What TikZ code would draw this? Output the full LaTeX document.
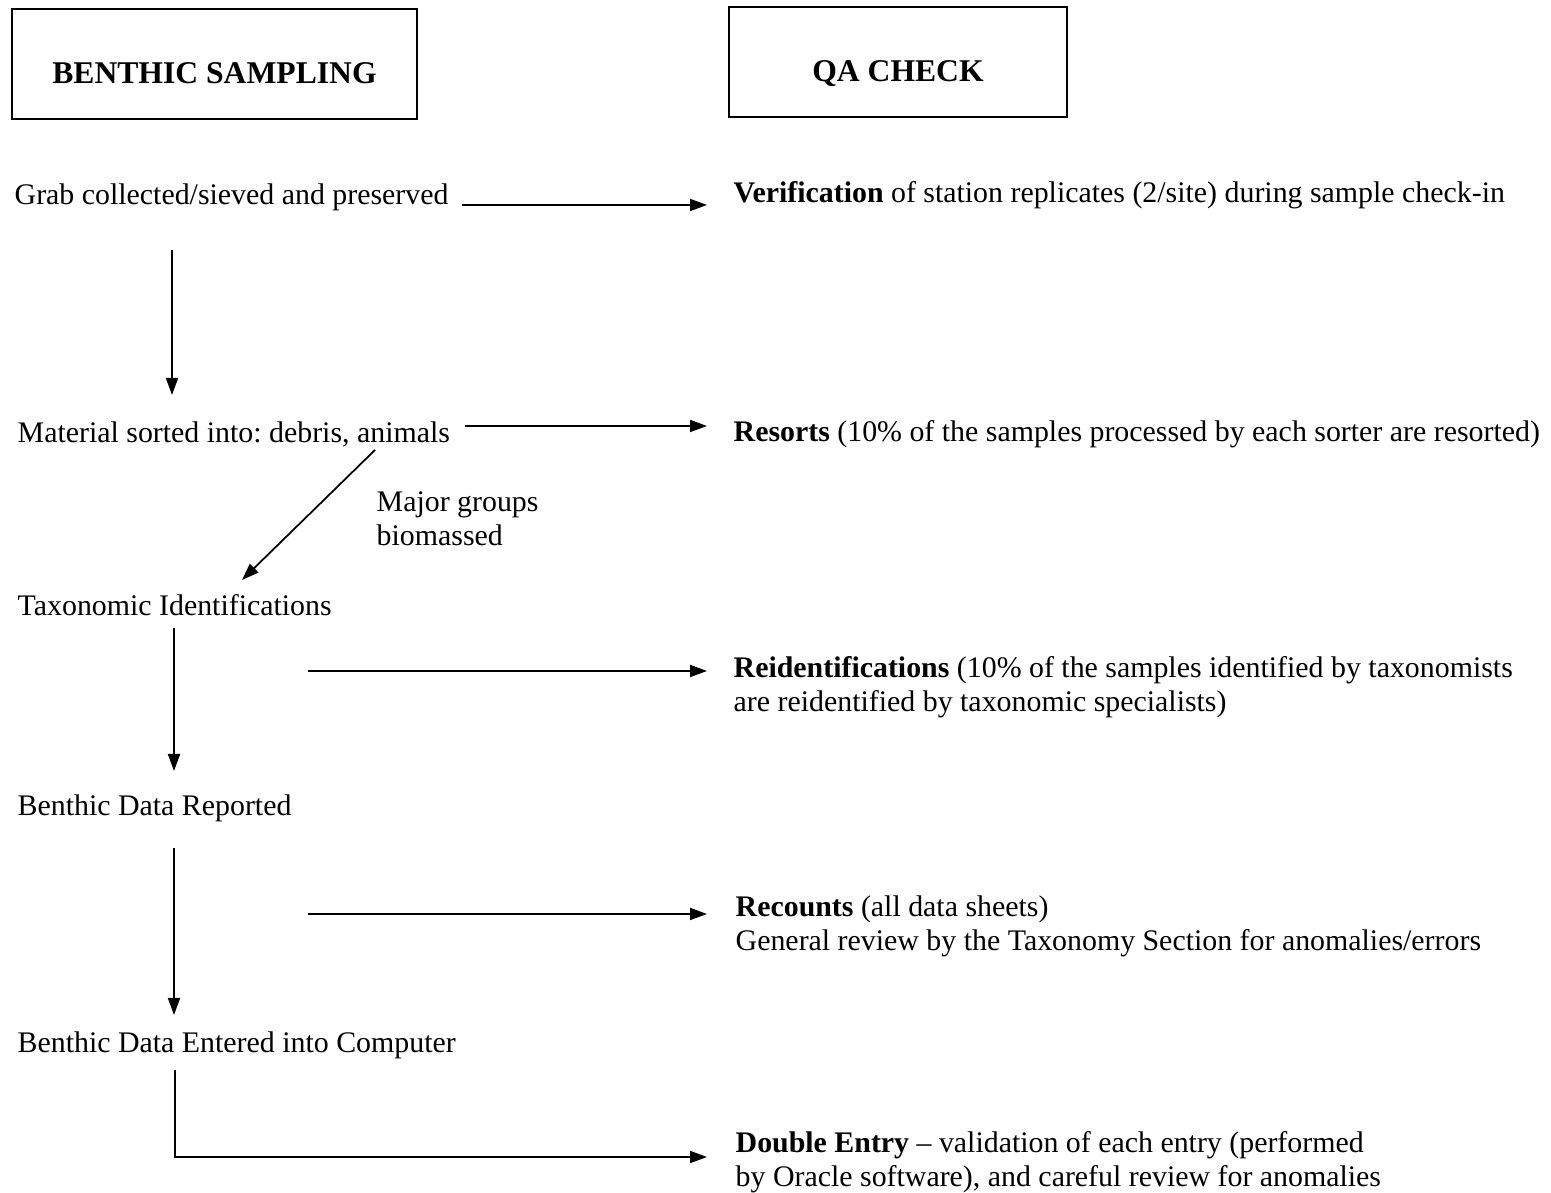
\documentclass[tikz,border=0pt]{standalone}
\usepackage{fontspec}
\setmainfont{Liberation Serif}
\usetikzlibrary{arrows.meta}
\frenchspacing
\begin{document}
\begin{tikzpicture}[
  txt/.style={anchor=west,inner sep=0pt,align=left,font=\fontsize{8.5}{9.7}\selectfont},
  titlebox/.style={draw,line width=0.6pt,inner sep=0pt,text height=0.39cm,text depth=0pt,font=\fontsize{9}{11}\selectfont\bfseries},
  arr/.style={line width=0.5pt,-{Triangle[length=1.7mm,width=1.2mm]}}]
\useasboundingbox (0,0) rectangle (15.51,11.93);

% headings
\node[titlebox,minimum width=4.05cm,minimum height=1.10cm] (bs) at (2.145,11.29) {BENTHIC SAMPLING};
\node[titlebox,minimum width=3.38cm,minimum height=1.10cm] (qa) at (8.98,11.31) {QA CHECK};

% sampling steps
\node[txt] (grab) at (0.14,9.96) {Grab collected/sieved and preserved};
\node[txt] (mat) at (0.17,7.59) {Material sorted into: debris, animals};
\node[txt] (major) at (3.76,6.74) {Major groups\\biomassed};
\node[txt] (tax) at (0.17,5.88) {Taxonomic Identifications};
\node[txt] (rep) at (0.17,3.85) {Benthic Data Reported};
\node[txt] (ent) at (0.17,1.48) {Benthic Data Entered into Computer};

% checks
\node[txt] (verif) at (7.33,9.98) {\textbf{Verification} of station replicates (2/site) during sample check-in};
\node[txt] (resort) at (7.33,7.59) {\textbf{Resorts} (10\% of the samples processed by each sorter are resorted)};
\node[txt] (reid) at (7.33,5.06) {\textbf{Reidentifications} (10\% of the samples identified by taxonomists\\are reidentified by taxonomic specialists)};
\node[txt] (recount) at (7.35,2.67) {\textbf{Recounts} (all data sheets)\\General review by the Taxonomy Section for anomalies/errors};
\node[txt] (dbl) at (7.35,0.31) {\textbf{Double Entry} -- validation of each entry (performed\\by Oracle software), and careful review for anomalies};

% arrow ends
\coordinate (g1) at (4.62,9.88);
\coordinate (g2) at (7.07,9.88);
\coordinate (m1) at (4.65,7.67);
\coordinate (m2) at (7.07,7.67);
\coordinate (t1) at (3.08,5.22);
\coordinate (t2) at (7.07,5.22);
\coordinate (r1) at (3.08,2.79);
\coordinate (r2) at (7.07,2.79);
\coordinate (e1) at (1.75,1.23);
\coordinate (e2) at (7.07,0.36);

\draw[arr] (g1) -- (g2);
\draw[arr] (m1) -- (m2);
\draw[arr] (t1) -- (t2);
\draw[arr] (r1) -- (r2);
\draw[arr] (1.72,9.43) -- (1.72,7.98);
\draw[arr] (3.75,7.43) -- (2.42,6.13);
\draw[arr] (1.74,5.65) -- (1.74,4.22);
\draw[arr] (1.74,3.45) -- (1.74,1.78);
\draw[arr] (e1) |- (e2);

\end{tikzpicture}
\end{document}
